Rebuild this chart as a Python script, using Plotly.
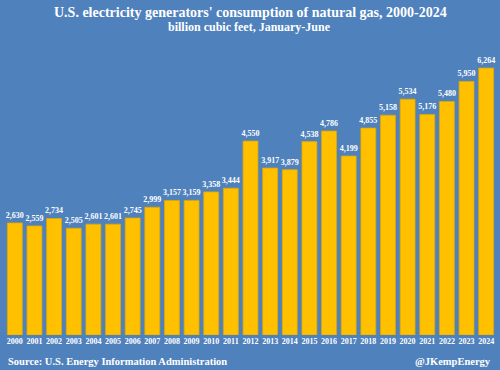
import plotly.graph_objects as go

years = [str(y) for y in range(2000, 2025)]
values = [2630, 2559, 2734, 2505, 2601, 2601, 2745, 2999, 3157, 3159, 3358, 3444,
          4550, 3917, 3879, 4538, 4786, 4199, 4855, 5158, 5534, 5176, 5480, 5950, 6264]
labels = [f"{v:,}" for v in values]

title = "U.S. electricity generators' consumption of natural gas, 2000-2024"
subtitle = "billion cubic feet, January-June"
source = "Source: U.S. Energy Information Administration"
handle = "@JKempEnergy"

BG = "#4F81BD"
FONT = "Liberation Serif"

W, H = 500, 370
L, R, T, B = 5, 4, 58, 35
ph = H - T - B
pw = W - L - R

def py(pix):
    return (H - B - pix) / ph

def px(pix):
    return (pix - L) / pw

fig = go.Figure(go.Bar(
    x=years, y=values, text=labels, textposition="outside",
    constraintext="none", cliponaxis=False,
    textfont=dict(family=FONT, size=8, color="white", weight="bold"),
    marker=dict(color="#FFC000", line=dict(color="#E0A800", width=0.8)),
))

fig.update_layout(
    width=W, height=H,
    margin=dict(l=L, r=R, t=T, b=B),
    paper_bgcolor=BG, plot_bgcolor=BG,
    bargap=0.24, showlegend=False,
    font=dict(family=FONT, color="white"),
    xaxis=dict(type="category", showgrid=False, zeroline=False, showline=False,
               ticks="", tickfont=dict(family=FONT, size=8, color="white", weight="bold")),
    yaxis=dict(range=[0, 6500], visible=False, showgrid=False, zeroline=False),
    annotations=[
        dict(text=title, xref="paper", yref="paper", x=px(250), y=py(12),
             xanchor="center", yanchor="middle", showarrow=False,
             font=dict(family=FONT, size=14, color="white", weight="bold")),
        dict(text=subtitle, xref="paper", yref="paper", x=px(249), y=py(27),
             xanchor="center", yanchor="middle", showarrow=False,
             font=dict(family=FONT, size=12, color="white", weight="bold")),
        dict(text=source, xref="paper", yref="paper", x=px(6), y=py(361),
             xanchor="left", yanchor="middle", showarrow=False,
             font=dict(family=FONT, size=10.5, color="white", weight="bold")),
        dict(text=handle, xref="paper", yref="paper", x=px(493), y=py(361),
             xanchor="right", yanchor="middle", showarrow=False,
             font=dict(family=FONT, size=10.5, color="white", weight="bold")),
    ],
)

fig.write_html("out.html", config={"displayModeBar": False},
               post_script="document.body.style.margin='0';document.body.style.overflow='hidden';")
